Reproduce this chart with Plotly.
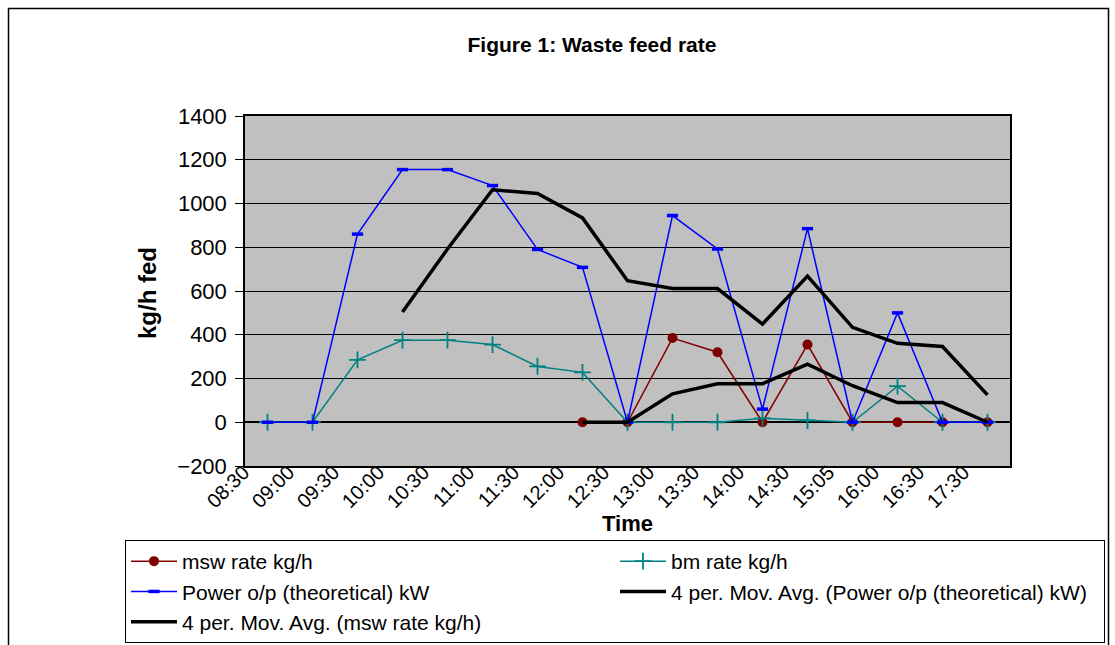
import plotly.graph_objects as go

times = ['08:30', '09:00', '09:30', '10:00', '10:30', '11:00', '11:30', '12:00', '12:30',
         '13:00', '13:30', '14:00', '14:30', '15:05', '16:00', '16:30', '17:30']
msw_rate = [None, None, None, None, None, None, None, 0, 0, 385, 320, 0, 355, 0, 0, 0, 0]
bm_rate = [0, 0, 285, 375, 375, 355, 255, 228, 0, 0, 0, 18, 8, 0, 165, 0, 0]
power_kw = [0, 0, 860, 1155, 1155, 1082, 790, 708, 0, 945, 792, 60, 885, 0, 500, 0, 0]
ma_power = [None, None, None, 504, 792, 1063, 1046, 934, 647, 611, 611, 449, 668, 434, 361, 346, 125]
ma_msw = [None, None, None, None, None, None, None, 0, 0, 130, 176, 176, 266, 167, 90, 90, 0]
boundaries = [i + 0.5 for i in range(-1, len(times))]

FONT = "Arial, Liberation Sans, sans-serif"

fig = go.Figure()
fig.add_trace(go.Scatter(x=times, y=msw_rate, name='msw rate kg/h', mode='lines+markers',
                         line=dict(color='#800000', width=1.5),
                         marker=dict(symbol='circle', size=10, color='#800000')))
fig.add_trace(go.Scatter(x=times, y=bm_rate, name='bm rate kg/h', mode='lines+markers',
                         line=dict(color='#008080', width=1.5),
                         marker=dict(symbol='cross-thin', size=12, color='#008080',
                                     line=dict(color='#008080', width=1.8))))
fig.add_trace(go.Scatter(x=times, y=power_kw, name='Power o/p (theoretical) kW', mode='lines+markers',
                         line=dict(color='#0000FF', width=1.5),
                         marker=dict(symbol='line-ew', size=8, color='#0000FF',
                                     line=dict(color='#0000FF', width=3.5))))
fig.add_trace(go.Scatter(x=times, y=ma_power, name='4 per. Mov. Avg. (Power o/p (theoretical) kW)',
                         mode='lines', line=dict(color='black', width=3.5)))
fig.add_trace(go.Scatter(x=times, y=ma_msw, name='4 per. Mov. Avg. (msw rate kg/h)',
                         mode='lines', line=dict(color='black', width=3.5)))

W, H = 1115, 645
L, T = 245, 116
R = W - 1010
B = H - 466
pw, ph = W - L - R, H - T - B


def px(xr):
    return (xr - L) / pw


def py(yr):
    return (H - B - yr) / ph


fig.update_layout(
    width=W, height=H,
    margin=dict(l=L, r=R, t=T, b=B, autoexpand=False),
    paper_bgcolor='white', plot_bgcolor='#C0C0C0',
    font=dict(family=FONT, size=21, color='black'),
    title=dict(text='<b>Figure 1: Waste feed rate</b>', x=592 / W, xref='container',
               xanchor='center', y=1 - 45 / H, yref='container', yanchor='middle',
               font=dict(size=21, family=FONT)),
    showlegend=True,
    legend=dict(orientation='h', x=px(125), y=py(540), xanchor='left', yanchor='top',
                bordercolor='black', borderwidth=1, bgcolor='white',
                font=dict(size=21, family=FONT), entrywidth=428, entrywidthmode='pixels',
                itemwidth=46, traceorder='normal', tracegroupgap=0),
    xaxis=dict(type='category', range=[-0.5, len(times) - 0.5], showgrid=False, zeroline=False,
               tickangle=-45, ticks='', showline=True, mirror=True, linecolor='black', linewidth=1.5,
               tickfont=dict(size=20), ticklabelshift=-24, ticklabelstandoff=-15),
    xaxis2=dict(overlaying='x', anchor='free', position=200 / 1600, range=[-0.5, len(times) - 0.5],
                tickmode='array', tickvals=boundaries, ticks='outside', ticklen=7, tickwidth=1.5,
                tickcolor='black', showticklabels=False, showgrid=False, zeroline=False, showline=False),
    yaxis=dict(range=[-200, 1400], dtick=200, tick0=0, showgrid=True, gridcolor='black', gridwidth=1,
               zeroline=True, zerolinecolor='black', zerolinewidth=1.5,
               showline=True, mirror=True, linecolor='black', linewidth=1.5,
               ticks='outside', ticklen=8, tickwidth=1, tickcolor='black', tickfont=dict(size=22),
               ticklabelstandoff=4),
    annotations=[
        dict(text='<b>Time</b>', xref='paper', yref='paper', x=px(627), y=py(523),
             xanchor='center', yanchor='middle', showarrow=False, font=dict(size=22, family=FONT)),
        dict(text='<b>kg/h fed</b>', xref='paper', yref='paper', x=px(147), y=py(293),
             xanchor='center', yanchor='middle', textangle=-90, showarrow=False,
             font=dict(size=24, family=FONT)),
    ],
)

# outer chart frame (bottom edge lies below the visible page in the reference)
fx0, fx1, fy0, fy1 = px(8.5), px(1108.5), py(H), py(8.5)
fig.add_shape(type='path', xref='paper', yref='paper',
              path=f'M {fx0} {fy0} L {fx0} {fy1} L {fx1} {fy1} L {fx1} {fy0}',
              line=dict(color='black', width=1.5), layer='below')

fig.write_html('out.html', config={'displayModeBar': False}, post_script=(
    "document.body.style.margin='0';"
    "var d=document.getElementById('{plot_id}');"
    "d.style.position='fixed';d.style.left='0px';d.style.top='0px';"))
